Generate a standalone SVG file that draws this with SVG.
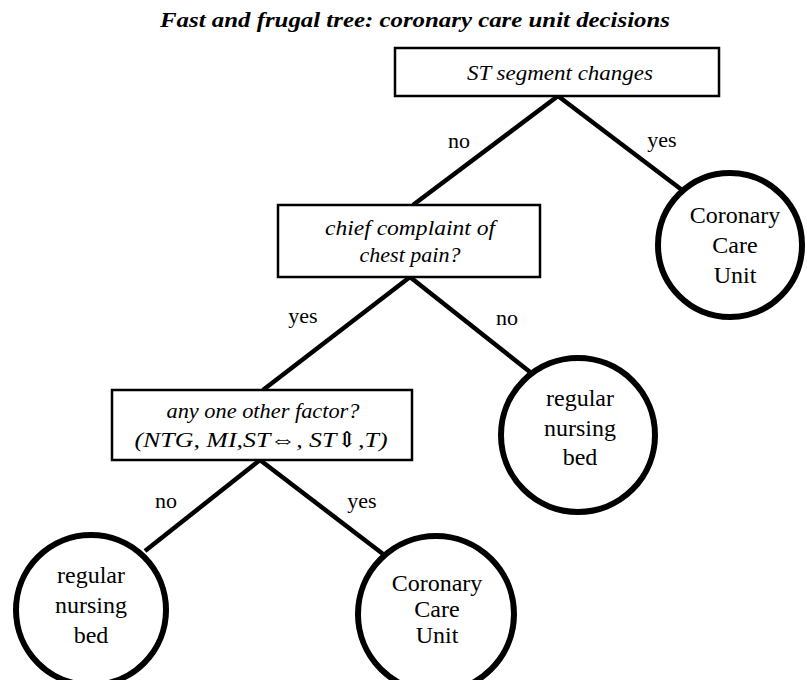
<svg xmlns="http://www.w3.org/2000/svg" width="807" height="680" viewBox="0 0 807 680">
<style>
.title{font-family:"Liberation Serif","Times New Roman","DejaVu Serif",serif;font-weight:bold;font-style:italic;font-size:21px;fill:#000}
.q{font-family:"Liberation Serif","Times New Roman","DejaVu Serif",serif;font-style:italic;font-size:22px;fill:#000;text-anchor:middle}
.lbl{font-family:"Liberation Serif","Times New Roman","DejaVu Serif",serif;font-style:normal;font-weight:normal;font-size:22px;fill:#000;text-anchor:middle}
.leaf{font-family:"Liberation Serif","Times New Roman","DejaVu Serif",serif;font-style:normal;font-weight:normal;font-size:24px;fill:#000;text-anchor:middle}
.box{fill:#fff;stroke:#000;stroke-width:2.5}
.circ{fill:#fff;stroke:#000;stroke-width:6}
.edge{stroke:#000;stroke-width:4.5;fill:none;stroke-linecap:butt}
</style>
<rect width="807" height="680" fill="#fff"/>
<text class="title" x="160" y="27" textLength="510" lengthAdjust="spacingAndGlyphs">Fast and frugal tree: coronary care unit decisions</text>
<g id="connectors">
<line class="edge" x1="558" y1="96" x2="413" y2="205"/>
<line class="edge" x1="558" y1="96" x2="682" y2="190"/>
<line class="edge" x1="410" y1="277" x2="263" y2="390"/>
<line class="edge" x1="410" y1="277" x2="530" y2="372"/>
<line class="edge" x1="260" y1="460" x2="145" y2="551"/>
<line class="edge" x1="260" y1="460" x2="383" y2="554"/>
<text class="lbl" x="459" y="148">no</text>
<text class="lbl" x="662" y="147">yes</text>
<text class="lbl" x="303" y="323">yes</text>
<text class="lbl" x="507" y="325">no</text>
<text class="lbl" x="166" y="508">no</text>
<text class="lbl" x="362" y="508">yes</text>
</g>
<g id="q1">
<rect class="box" x="395" y="48" width="324" height="48"/>
<text class="q" x="560" y="80" textLength="186" lengthAdjust="spacingAndGlyphs">ST segment changes</text>
</g>
<g id="q2">
<rect class="box" x="278" y="205" width="262" height="72"/>
<text class="q" x="410" y="235" textLength="170" lengthAdjust="spacingAndGlyphs">chief complaint of</text>
<text class="q" x="410" y="262">chest pain?</text>
</g>
<g id="q3">
<rect class="box" x="112" y="390" width="300" height="70"/>
<text class="q" x="263" y="418" textLength="193" lengthAdjust="spacingAndGlyphs">any one other factor?</text>
<text class="q" x="261" y="447" textLength="253" lengthAdjust="spacingAndGlyphs">(NTG, MI,ST⇔, ST⇕,T)</text>
</g>
<g id="leaf1">
<circle class="circ" cx="730" cy="245" r="72"/>
<text class="leaf" x="735" y="223">Coronary</text>
<text class="leaf" x="735" y="253">Care</text>
<text class="leaf" x="735" y="283">Unit</text>
</g>
<g id="leaf2">
<circle class="circ" cx="578" cy="435" r="77"/>
<text class="leaf" x="580" y="406">regular</text>
<text class="leaf" x="580" y="436">nursing</text>
<text class="leaf" x="580" y="465">bed</text>
</g>
<g id="leaf3">
<circle class="circ" cx="91" cy="610" r="75"/>
<text class="leaf" x="91" y="583">regular</text>
<text class="leaf" x="91" y="613">nursing</text>
<text class="leaf" x="91" y="643">bed</text>
</g>
<g id="leaf4">
<circle class="circ" cx="436" cy="614" r="78"/>
<text class="leaf" x="437" y="591">Coronary</text>
<text class="leaf" x="437" y="617">Care</text>
<text class="leaf" x="437" y="643">Unit</text>
</g>
</svg>
